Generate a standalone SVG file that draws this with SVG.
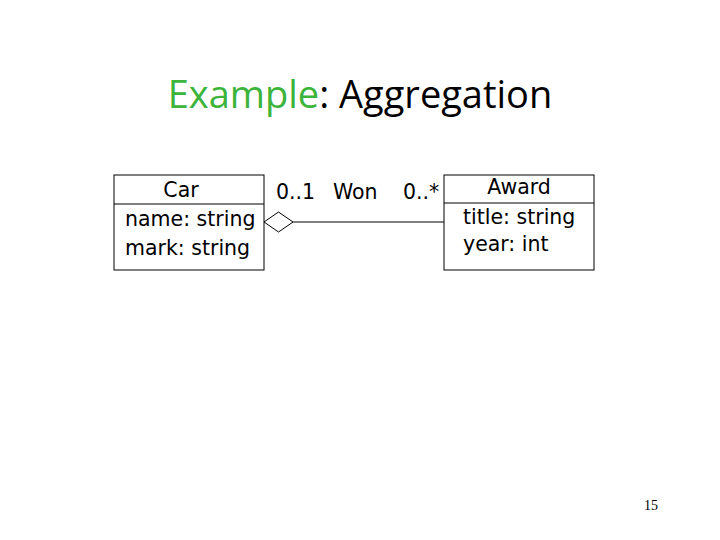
<svg xmlns="http://www.w3.org/2000/svg" width="720" height="540" viewBox="0 0 720 540">
<style>
.box{fill:#fff;stroke:#000;stroke-width:1}
.t{font-family:"DejaVu Sans",sans-serif;font-size:20.5px;fill:#000}
.ti{font-family:"Open Sans","Noto Sans",sans-serif;font-size:38px}
</style>
<rect width="720" height="540" fill="#fff"/>
<text class="ti" x="360" y="108" text-anchor="middle"><tspan fill="#3cb43c">Example</tspan><tspan fill="#000">: Aggregation</tspan></text>
<g id="connectors">
<line x1="293" y1="222" x2="444" y2="222" stroke="#000"/>
<polygon points="264,222 278.5,212 293,222 278.5,232" fill="#fff" stroke="#000"/>
<text class="t" x="276" y="199">0..1</text>
<text class="t" x="333" y="199">Won</text>
<text class="t" x="403" y="199">0..*</text>
</g>
<g id="car">
<rect class="box" x="114" y="175" width="150" height="95"/>
<line x1="114" y1="204" x2="264" y2="204" stroke="#000"/>
<text class="t" x="181" y="197" text-anchor="middle">Car</text>
<text class="t" x="125" y="226">name: string</text>
<text class="t" x="125" y="255">mark: string</text>
</g>
<g id="award">
<rect class="box" x="444" y="175" width="150" height="95"/>
<line x1="444" y1="203" x2="594" y2="203" stroke="#000"/>
<text class="t" x="519" y="194" text-anchor="middle">Award</text>
<text class="t" x="463" y="224">title: string</text>
<text class="t" x="463" y="251">year: int</text>
</g>
<text x="651" y="510" text-anchor="middle" font-family="Liberation Serif,serif" font-size="14">15</text>
</svg>
